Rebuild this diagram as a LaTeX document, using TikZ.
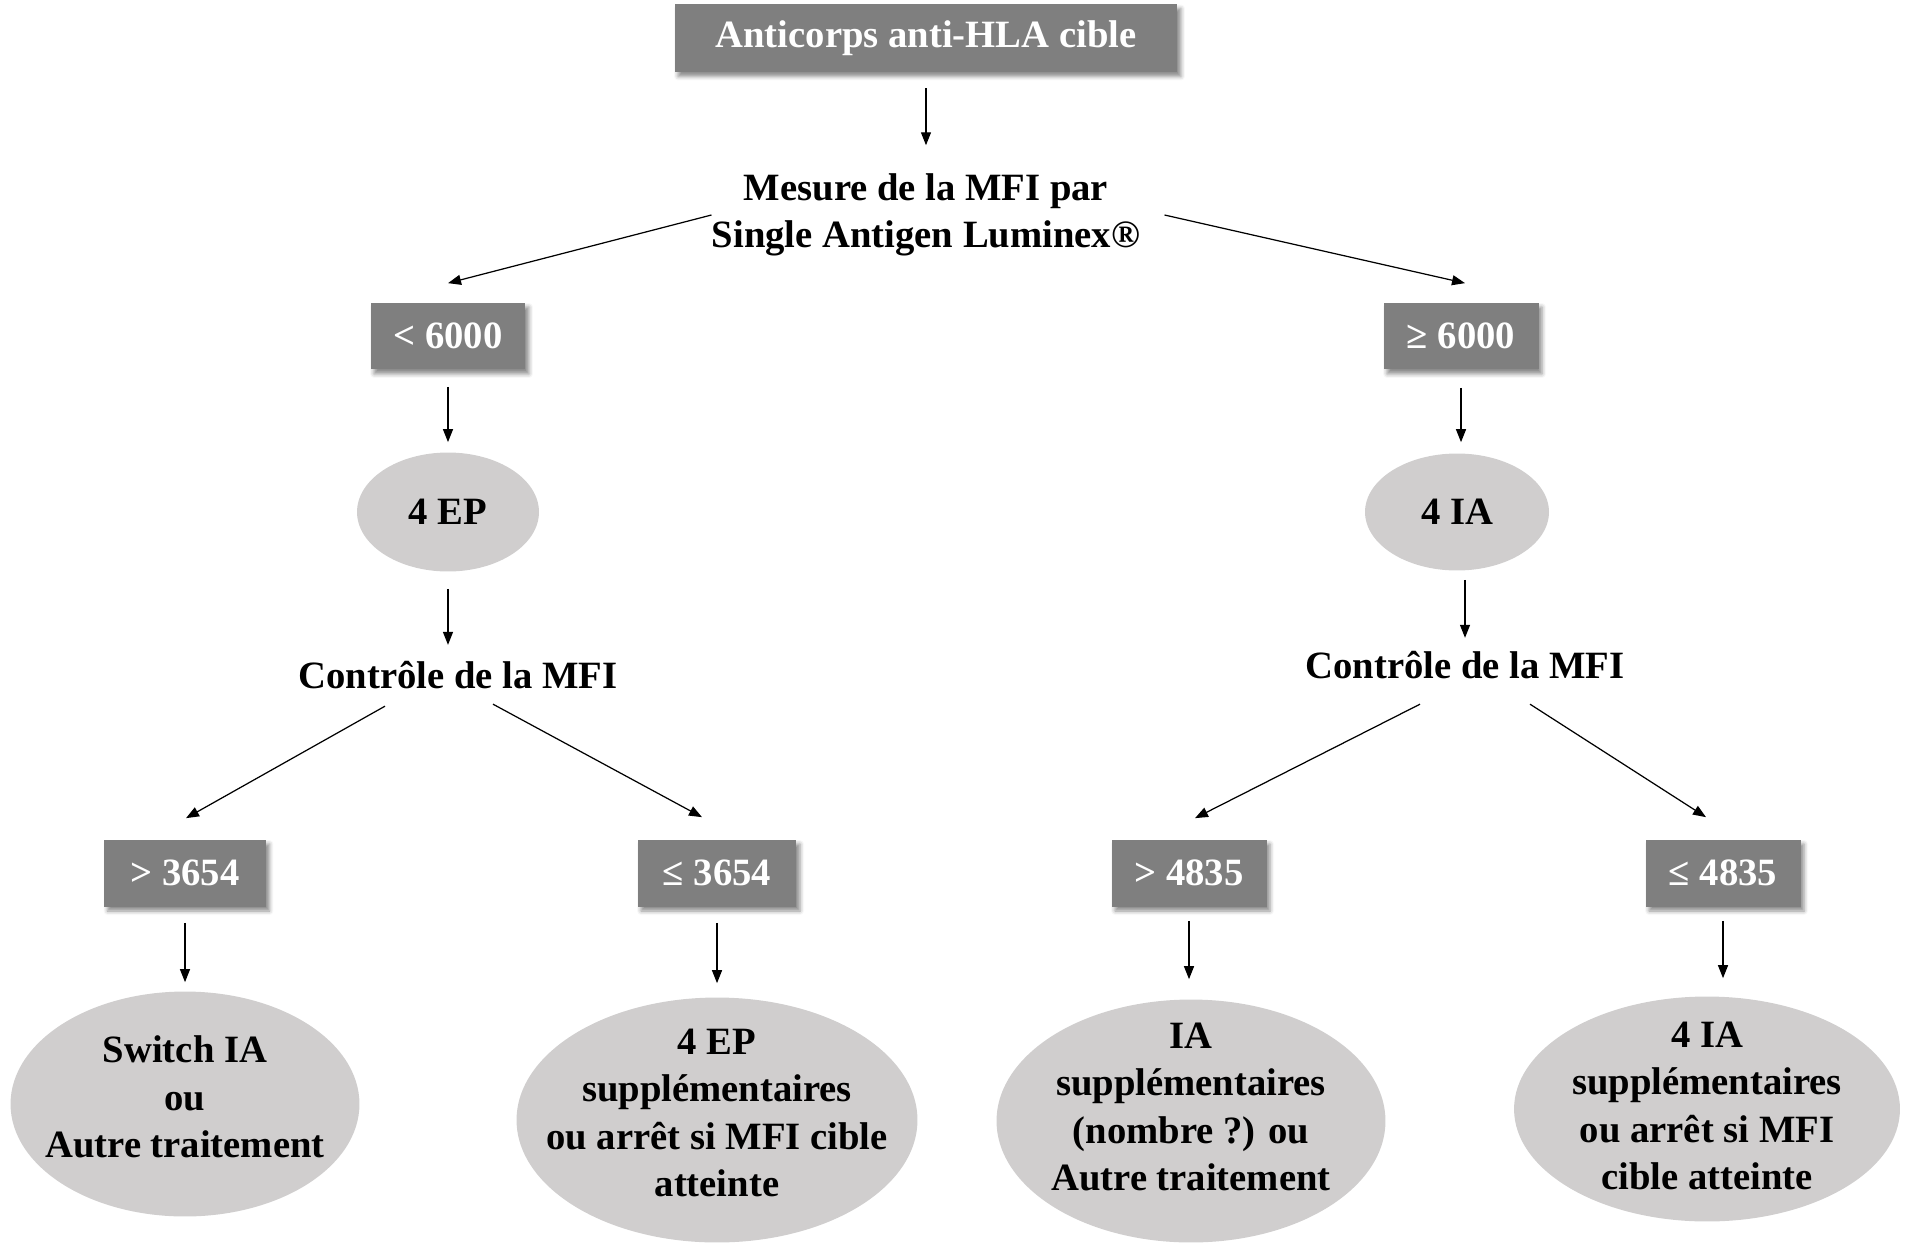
\documentclass[tikz,border=0pt]{standalone}
\usepackage{fontspec}
\setmainfont{Liberation Serif}
\usetikzlibrary{shapes,arrows.meta,positioning,calc,shadows.blur}
\definecolor{boxgray}{RGB}{127,127,127}
\definecolor{ovalgray}{RGB}{208,206,206}

\begin{document}
\begin{tikzpicture}[x=.02cm,y=-.02cm,
		font=\fontsize{22}{27}\selectfont\bfseries,
		box/.style={rectangle,fill=boxgray,text=white,minimum width=3.1cm,minimum height=1.34cm,
			blur shadow={shadow xshift=.07cm,shadow yshift=-.09cm,shadow blur radius=.08cm,shadow opacity=45}},
		oval/.style={ellipse,fill=ovalgray,inner sep=0},
		txt/.style={align=center,inner sep=0},
		arr/.style={-{Triangle[length=.26cm,width=.2cm]},line width=.7pt}]
		
		\useasboundingbox (0,0) rectangle (1910,1247);
		
		% top
		\node[box,minimum width=10.06cm,minimum height=1.36cm] (cible) at (926,38) {Anticorps anti-HLA cible};
		\node[txt] (mesure) at (926,215) {Mesure de la MFI par\\Single Antigen Luminex®};
		
		% left branch
		\node[box] (inf) at (448,336) {< 6000};
		\node[oval,minimum width=3.64cm,minimum height=2.38cm] (ep) at (448,512) {};
		\node[txt] (ept) at (ep) {4 EP};
		\node[txt] (ctlg) at (458,675) {Contrôle de la MFI};
		\node[box,minimum width=3.24cm] (gtg) at (185,873) {> 3654};
		\node[box,minimum width=3.18cm] (leg) at (717,873) {≤ 3654};
		\node[oval,minimum width=6.98cm,minimum height=4.5cm] (switch) at (185,1104) {};
		\node[txt] (switcht) at (185,1097) {Switch IA\\ou\\Autre traitement};
		\node[oval,minimum width=8.02cm,minimum height=4.9cm] (epsup) at (717,1120) {};
		\node[txt] (epsupt) at (717,1113) {4 EP\\supplémentaires\\ou arrêt si MFI cible\\atteinte};
		
		% right branch
		\node[box] (sup) at (1461,336) {≥ 6000};
		\node[oval,minimum width=3.68cm,minimum height=2.34cm] (ia) at (1457,512) {};
		\node[txt] (iat) at (ia) {4 IA};
		\node[txt] (ctld) at (1465,665) {Contrôle de la MFI};
		\node[box] (gtd) at (1189,873) {> 4835};
		\node[box] (led) at (1723,873) {≤ 4835};
		\node[oval,minimum width=7.78cm,minimum height=4.86cm] (iasup) at (1191,1121) {};
		\node[txt] (iasupt) at (1191,1107) {IA\\supplémentaires\\(nombre ?) ou\\Autre traitement};
		\node[oval,minimum width=7.72cm,minimum height=4.5cm] (iastop) at (1707,1109) {};
		\node[txt] (iastopt) at (1707,1106) {4 IA\\supplémentaires\\ou arrêt si MFI\\cible atteinte};
		
		% arrows
		\draw[arr] ($(cible.south)+(0,16)$) -- ($(cible.south |- mesure.north)+(0,-28)$);
		\draw[arr] (mesure.west) -- ($(inf.north)+(0,-19)$);
		\draw[arr] ($(mesure.east)+(24,0)$) -- ($(sup.north)+(4,-19)$);
		
		\draw[arr] ($(inf.south)+(0,17)$) -- ($(inf.south |- ep.north)+(0,-10)$);
		\draw[arr] ($(ep.south)+(0,17)$) -- ($(ep.south |- ctlg.north)+(0,-16)$);
		\draw[arr] ($(ctlg.south)+(-73,17)$) -- ($(gtg.north)+(1,-21)$);
		\draw[arr] ($(ctlg.south)+(35,15)$) -- ($(leg.north)+(-15,-22)$);
		\draw[arr] ($(gtg.south)+(0,16)$) -- ($(gtg.south |- switch.north)+(0,-9)$);
		\draw[arr] ($(leg.south)+(0,16)$) -- ($(leg.south |- epsup.north)+(0,-14)$);
		
		\draw[arr] ($(sup.south)+(0,18)$) -- ($(sup.south |- ia.north)+(0,-11)$);
		\draw[arr] ($(ia.south)+(8,9)$) -- ($(ia.south -| ctld.north)+(0,67)$);
		\draw[arr] ($(ctld.south)+(-45,25)$) -- ($(gtd.north)+(6,-21)$);
		\draw[arr] ($(ctld.south)+(65,25)$) -- ($(led.north)+(-17,-22)$);
		\draw[arr] ($(gtd.south)+(0,14)$) -- ($(gtd.south |- iasup.north)+(0,-20)$);
		\draw[arr] ($(led.south)+(0,14)$) -- ($(led.south |- iastop.north)+(0,-18)$);
\end{tikzpicture}
\end{document}
